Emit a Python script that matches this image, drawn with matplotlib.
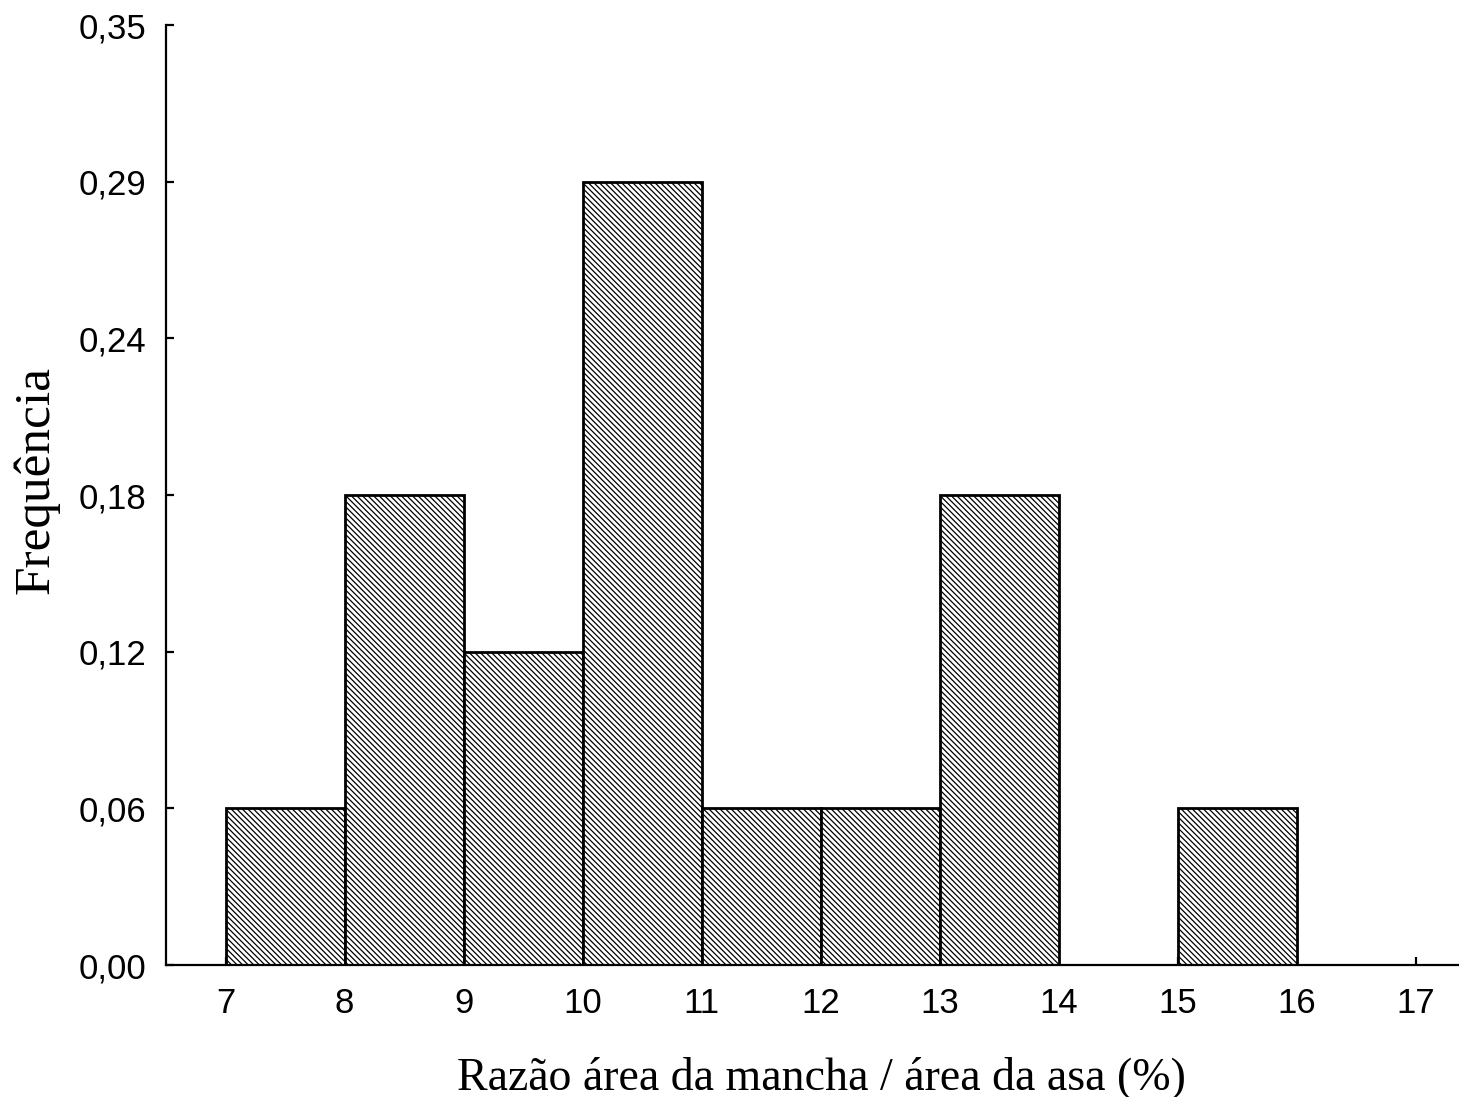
import matplotlib
matplotlib.use('Agg')
import matplotlib.pyplot as plt
import numpy as np

# histogram of the spot/wing area ratio, 17 insects
bin_left = [7, 8, 9, 10, 11, 12, 13, 14, 15, 16]
counts = [1, 3, 2, 5, 1, 1, 3, 0, 1, 0]
n_total = 17
freq = np.array(counts) / n_total

ytick_vals = np.arange(0, 7) / n_total
ytick_labels = ['0,00', '0,06', '0,12', '0,18', '0,24', '0,29', '0,35']
xtick_vals = list(range(7, 18))

plt.rcParams['hatch.linewidth'] = 0.9

fig = plt.figure(figsize=(14.59, 10.97), dpi=100)
ax = fig.add_axes([0.1138, 0.1203, 0.8862, 0.8569])

ax.bar(bin_left, freq, width=1, align='edge', color='white',
       edgecolor='black', linewidth=2, hatch='\\\\\\\\\\\\', zorder=2)

ax.set_xlim(6.5, 17.36)
ax.set_ylim(0, 6 / n_total)
ax.set_xticks(xtick_vals)
ax.set_yticks(ytick_vals)
ax.set_yticklabels(ytick_labels)

for side in ['top', 'right']:
    ax.spines[side].set_visible(False)
for side in ['left', 'bottom']:
    ax.spines[side].set_linewidth(1.6)

ax.tick_params(direction='in', length=6, width=1.6, labelsize=25,
               labelfontfamily='Liberation Sans')
ax.tick_params(axis='y', pad=14)
ax.tick_params(axis='x', pad=16)

ax.set_xlabel('Razão área da mancha / área da asa (%)', fontsize=33,
              family='Liberation Serif', labelpad=26)
ax.xaxis.label.set_x(0.507)
ax.set_ylabel('Frequência', fontsize=37, family='Liberation Serif')
ax.yaxis.set_label_coords(-0.082, 0.516)

fig.savefig('out.png', dpi=100)
